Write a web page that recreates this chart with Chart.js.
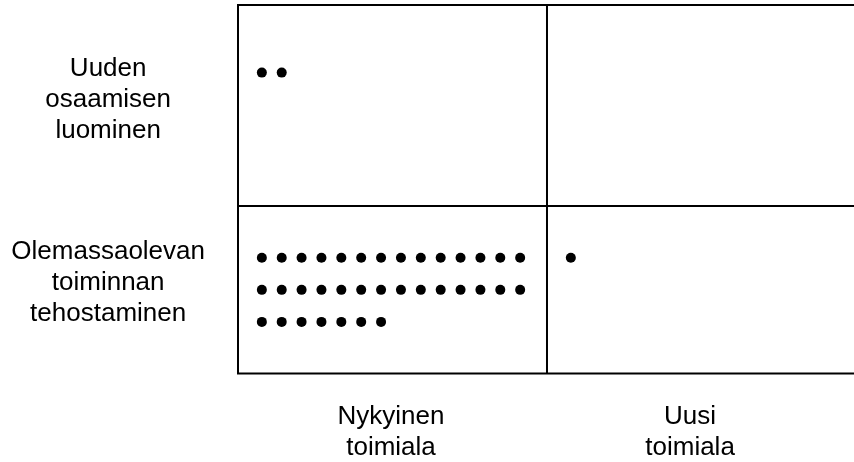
<!DOCTYPE html>
<html><head><meta charset="utf-8">
<script src="https://cdn.jsdelivr.net/npm/chart.js@4"></script>
<style>html,body{margin:0;padding:0;background:#fff;}canvas{display:block}</style>
</head><body>
<canvas id="c" width="854" height="462"></canvas>
<script>
// ---- data ----
const columnLabels = [['Nykyinen', 'toimiala'], ['Uusi', 'toimiala']];
const rowLabels = [['Uuden', 'osaamisen', 'luominen'], ['Olemassaolevan', 'toiminnan', 'tehostaminen']];
// number of cases (dots) in each quadrant: [Nykyinen toimiala, Uusi toimiala]
const countsNewKnowledge = [2, 0];
const countsEfficiency = [35, 1];

// ---- layout (scale units) ----
const X_MAX = 31, Y_MAX = 11.5;
const X_SPLIT = 15.55, Y_SPLIT = 5.23;
const colLabelPos = [7.7, 22.75];
const rowLabelPos = [8.55, 2.83];
const DOTS_PER_ROW = 14;
const colStart = [1.2, X_SPLIT + 1.2];
const rowStart = [9.39, 3.61];

function dots(count, x0, y0) {
  const pts = [];
  for (let i = 0; i < count; i++) {
    pts.push({ x: x0 + (i % DOTS_PER_ROW), y: y0 - Math.floor(i / DOTS_PER_ROW) });
  }
  return pts;
}
const allDots = [
  ...dots(countsNewKnowledge[0], colStart[0], rowStart[0]),
  ...dots(countsNewKnowledge[1], colStart[1], rowStart[0]),
  ...dots(countsEfficiency[0], colStart[0], rowStart[1]),
  ...dots(countsEfficiency[1], colStart[1], rowStart[1])
];

const lineDs = (pts) => ({
  data: pts, showLine: true, pointRadius: 0, borderColor: '#000', borderWidth: 2,
  fill: false, tension: 0, clip: false
});

const FONT = { family: '"Liberation Sans", Arial, sans-serif', size: 26, lineHeight: 1.2 };
const noPad = s => { s.paddingTop = 0; s.paddingBottom = 0; s.paddingLeft = 0; s.paddingRight = 0; };

new Chart(document.getElementById('c'), {
  type: 'scatter',
  data: {
    datasets: [
      lineDs([{ x: X_MAX, y: Y_MAX }, { x: 0, y: Y_MAX }, { x: 0, y: 0 }, { x: X_MAX, y: 0 }]),
      lineDs([{ x: X_SPLIT, y: 0 }, { x: X_SPLIT, y: Y_MAX }]),
      lineDs([{ x: 0, y: Y_SPLIT }, { x: X_MAX, y: Y_SPLIT }]),
      { data: allDots, pointRadius: 5, pointHoverRadius: 5, pointBackgroundColor: '#000', pointBorderWidth: 0, showLine: false }
    ]
  },
  options: {
    responsive: false, animation: false,
    layout: { autoPadding: false, padding: { top: 5, right: 0, left: 0, bottom: 0 } },
    plugins: { legend: { display: false }, tooltip: { enabled: false } },
    scales: {
      x: {
        type: 'linear', min: 0, max: X_MAX,
        grid: { display: false, drawTicks: false }, border: { display: false },
        afterBuildTicks: s => { s.ticks = colLabelPos.map(v => ({ value: v })); },
        afterFit: s => { s.height = 88.5; noPad(s); },
        ticks: {
          autoSkip: false, maxRotation: 0, padding: 28, color: '#000', font: FONT,
          callback: (v, i) => columnLabels[i]
        }
      },
      y: {
        type: 'linear', min: 0, max: Y_MAX,
        grid: { display: false, drawTicks: false }, border: { display: false },
        afterBuildTicks: s => { s.ticks = rowLabelPos.map(v => ({ value: v })).reverse(); },
        afterFit: s => { s.width = 238; noPad(s); },
        ticks: {
          autoSkip: false, crossAlign: 'center', padding: 33, color: '#000', font: FONT,
          callback: (v, i, t) => rowLabels[t.length - 1 - i]
        }
      }
    }
  }
});
</script>
</body></html>
